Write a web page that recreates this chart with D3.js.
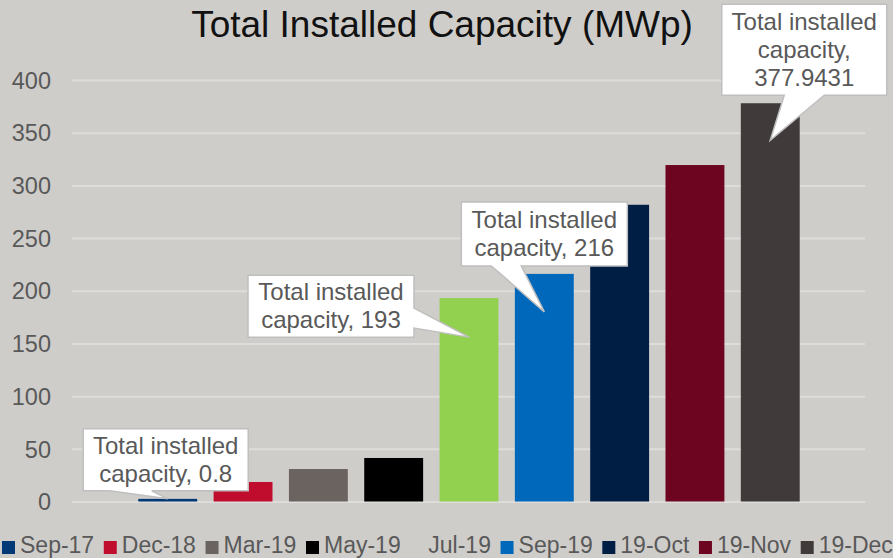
<!DOCTYPE html>
<html>
<head>
    <meta charset="utf-8">
    <style>
        body { margin: 0; background: #cfcdca; }
        svg { display: block; font-family: "Liberation Sans", Arial, sans-serif; }
        .y .tick text { font-size: 23.5px; fill: #595959; }
        .y .tick line { stroke: #dfdddb; stroke-width: 2px; }
        .y .domain { display: none; }
    </style>
</head>
<body>
<svg width="893" height="558"></svg>

<script src="https://d3js.org/d3.v7.min.js"></script>
<script>
    // data
    let categories = ["Sep-17", "Dec-18", "Mar-19", "May-19", "Jul-19", "Sep-19", "19-Oct", "19-Nov", "19-Dec"]
    let values = [2.5, 18.5, 30.8, 41.3, 193, 216, 281.6, 319.3, 377.9431]
    let colors = ["#003976", "#c00d2e", "#6b6360", "#000000", "#92d050", "#0068ba", "#001e44", "#6e0520", "#403a3a"]
    let yTicks = [0, 50, 100, 150, 200, 250, 300, 350, 400]

    // data label callouts
    let callouts = [
        { cat: "Sep-17", lines: ["Total installed", "capacity, 0.8"] },
        { cat: "Jul-19", lines: ["Total installed", "capacity, 193"] },
        { cat: "Sep-19", lines: ["Total installed", "capacity, 216"] },
        { cat: "19-Dec", lines: ["Total installed", "capacity,", "377.9431"] }
    ]

    let svg = d3.select("svg")

    let margin = { top: 80, bottom: 501.5, left: 72, right: 865 }

    let x = d3.scaleBand()
        .domain(categories)
        .range([130, 808])
        .paddingInner(0.218)
        .paddingOuter(0.11)

    let y = d3.scaleLinear()
        .domain([0, 400])
        .range([margin.bottom, margin.top])

    // title
    svg.append("text")
        .attr("x", 442)
        .attr("y", 37)
        .attr("text-anchor", "middle")
        .style("font-size", "37px")
        .style("fill", "#111")
        .text("Total Installed Capacity (MWp)")

    // y axis + gridlines
    let yAxis = svg.append("g")
        .attr("class", "y axis")
        .attr("transform", `translate(${margin.left},0)`)
        .call(d3.axisLeft(y)
            .tickValues(yTicks)
            .tickSize(-(margin.right - margin.left))
            .tickPadding(21))
    yAxis.selectAll(".tick text").attr("dy", "0.35em")

    // bars
    svg.append("g")
        .selectAll("rect")
        .data(categories)
        .join("rect")
        .attr("x", d => x(d))
        .attr("y", (d, i) => y(values[i]))
        .attr("width", x.bandwidth())
        .attr("height", (d, i) => y(0) - y(values[i]))
        .style("fill", (d, i) => colors[i])

    // callouts: box placement relative to the bar top
    let place = {
        "Sep-17": { tipDy: 0, boxDx: -2, boxTop: -70, w: 165, h: 62, side: "bottom", base: [-56, -14] },
        "Jul-19": { tipDy: 39, boxDx: -138, boxTop: -62, w: 166, h: 62, side: "right", base: [-29, -9] },
        "Sep-19": { tipDy: 38, boxDx: 0, boxTop: -110, w: 166, h: 64, side: "bottom", base: [-53, -23] },
        "19-Dec": { tipDy: 37, boxDx: 34, boxTop: -136, w: 165, h: 91, side: "bottom", base: [-20, 20] }
    }

    function calloutPath(bx, by, w, h, side, base, tx, ty) {
        let x0 = bx, x1 = bx + w, y0 = by, y1 = by + h
        if (side == "bottom") {
            return `M${x0},${y0}H${x1}V${y1}H${tx + base[1]}L${tx},${ty}L${tx + base[0]},${y1}H${x0}Z`
        } else {
            return `M${x0},${y0}H${x1}V${ty + base[0]}L${tx},${ty}L${x1},${ty + base[1]}V${y1}H${x0}Z`
        }
    }

    let cg = svg.append("g")
    callouts.forEach(c => {
        let p = place[c.cat]
        let i = categories.indexOf(c.cat)
        let tx = x(c.cat) + x.bandwidth() / 2
        let ty = y(values[i]) + p.tipDy
        let bx = tx + p.boxDx - p.w / 2
        let by = ty + p.boxTop
        let cx = bx + p.w / 2
        let baseX = p.side == "bottom" ? [p.base[0] + p.boxDx, p.base[1] + p.boxDx] : p.base
        cg.append("path")
            .attr("d", calloutPath(bx, by, p.w, p.h, p.side, baseX, tx, ty))
            .style("fill", "#fff")
            .style("stroke", "#bfbfbf")
            .style("stroke-width", 1.5)
        let n = c.lines.length
        c.lines.forEach((line, k) => {
            cg.append("text")
                .attr("x", cx)
                .attr("y", by + p.h / 2 + (k - (n - 1) / 2) * 28 + 8)
                .attr("text-anchor", "middle")
                .style("font-size", "24px")
                .style("fill", "#595959")
                .text(line)
        })
    })

    // legend
    let legend = svg.append("g").attr("transform", "translate(0,553)")
    let lx = 2
    categories.forEach((c, i) => {
        if (c != "Jul-19") {
            legend.append("rect")
                .attr("x", lx)
                .attr("y", -12)
                .attr("width", 13)
                .attr("height", 13)
                .style("fill", colors[i])
        }
        let t = legend.append("text")
            .attr("x", lx + 18)
            .attr("y", 0)
            .style("font-size", "23px")
            .style("fill", "#595959")
            .text(c)
        lx = lx + 18 + t.node().getComputedTextLength() + 9.6
    })
</script>
</body>
</html>
